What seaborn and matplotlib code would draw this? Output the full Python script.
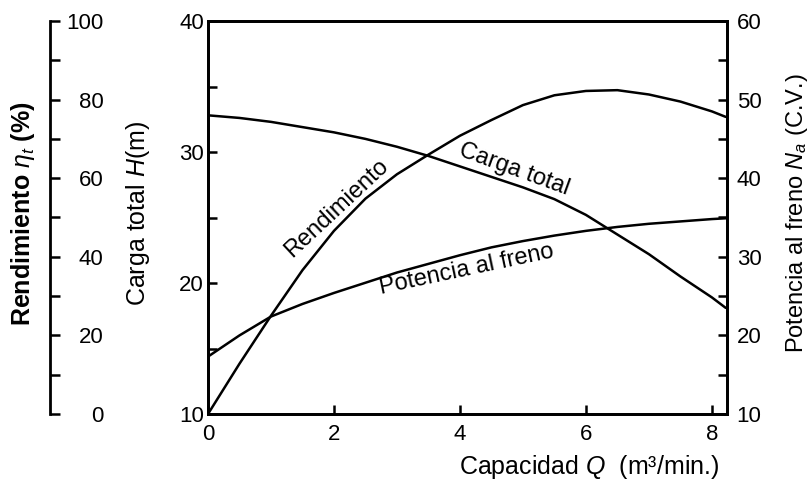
import matplotlib
matplotlib.use("Agg")
import matplotlib.pyplot as plt
import seaborn as sns
from matplotlib.ticker import MultipleLocator

# -----------------------------------------------------------------------------
# Datos leidos de la curva caracteristica de la bomba
# -----------------------------------------------------------------------------
caudal = [0, 0.5, 1, 1.5, 2, 2.5, 3, 3.5, 4, 4.5, 5, 5.5, 6, 6.5, 7, 7.5, 8, 8.22]
carga_total = [32.8, 32.6, 32.3, 31.9, 31.5, 31.0, 30.4, 29.7, 28.9, 28.1,
               27.3, 26.4, 25.2, 23.7, 22.2, 20.5, 18.9, 18.1]
potencia = [17.3, 20.0, 22.4, 24.0, 25.4, 26.7, 28.0, 29.1, 30.2, 31.2,
            32.0, 32.7, 33.3, 33.8, 34.2, 34.5, 34.8, 34.9]
rendimiento = [0, 12.8, 25.0, 36.6, 46.6, 54.8, 61.0, 66.0, 70.8, 74.8,
               78.6, 81.1, 82.2, 82.4, 81.3, 79.5, 77.0, 75.6]

ticks_q = [0, 2, 4, 6, 8]
ticks_h = [10, 20, 30, 40]
ticks_n = [10, 20, 30, 40, 50, 60]
ticks_eta = [0, 20, 40, 60, 80, 100]

sns.set_style("ticks")
plt.rcParams["font.family"] = ["Liberation Sans", "DejaVu Sans"]
plt.rcParams["mathtext.fontset"] = "custom"
plt.rcParams["mathtext.rm"] = "Liberation Sans"
plt.rcParams["mathtext.it"] = "Liberation Sans:italic"
plt.rcParams["mathtext.bf"] = "Liberation Sans:bold"
plt.rcParams["axes.linewidth"] = 2
for k in ["axes.edgecolor", "xtick.color", "ytick.color", "text.color",
          "axes.labelcolor", "xtick.labelcolor", "ytick.labelcolor"]:
    plt.rcParams[k] = "black"

fig = plt.figure(figsize=(8.1, 4.88), dpi=100)
ax = fig.add_axes([208 / 810, 74 / 488, 519 / 810, 393 / 488])
axr = ax.twinx()
axe = ax.twinx()

sns.lineplot(x=caudal, y=carga_total, ax=ax, color="black", lw=1.8)
sns.lineplot(x=caudal, y=potencia, ax=axr, color="black", lw=1.8)
sns.lineplot(x=caudal, y=rendimiento, ax=axe, color="black", lw=1.8)

# eje principal (carga total)
ax.set_xlim(0, 8.24)
ax.set_ylim(10, 40)
ax.set_xticks(ticks_q)
ax.set_yticks(ticks_h)
ax.yaxis.set_minor_locator(MultipleLocator(5))
ax.tick_params(axis="both", which="both", direction="in", width=1.8,
               length=6.5, labelsize=16)
ax.tick_params(axis="y", pad=3, left=True, right=False)
ax.tick_params(axis="x", pad=7, top=False, bottom=True)
ax.set_ylabel("Carga total $H$(m)", fontsize=18)
ax.yaxis.set_label_coords(-0.108, 0.51)
ax.set_xlabel("Capacidad $Q$  (m³/min.)", fontsize=18, loc="right")
ax.xaxis.set_label_coords(0.986, -0.1)

# eje derecho (potencia al freno)
axr.set_ylim(10, 60)
axr.set_yticks(ticks_n)
axr.yaxis.set_minor_locator(MultipleLocator(5))
axr.tick_params(axis="y", which="both", direction="in", width=1.8,
                length=6.5, labelsize=16, pad=7)
axr.set_ylabel("Potencia al freno $N_a$ (C.V.)", fontsize=17)
axr.yaxis.set_label_coords(1.11, 0.51)

# eje exterior (rendimiento)
axe.set_ylim(0, 100)
axe.spines["right"].set_position(("axes", -0.304))
for s in ["left", "top", "bottom"]:
    axe.spines[s].set_visible(False)
axe.set_yticks(ticks_eta)
axe.yaxis.set_minor_locator(MultipleLocator(10))
axe.tick_params(axis="y", which="both", direction="out", length=7.5, width=1.8,
                labelsize=16, pad=31)
for t in axe.get_yticklabels():
    t.set_horizontalalignment("right")
axe.set_ylabel(r"Rendimiento $\eta_t$ (%)", fontsize=18, fontweight="bold")
axe.yaxis.set_label_position("left")
axe.yaxis.set_label_coords(-0.329, 0.51)
axe.yaxis.label.set_verticalalignment("bottom")

# etiquetas de las curvas
ax.text(2.04, 25.7, "Rendimiento", rotation=43, ha="center", va="center", fontsize=17)
ax.text(4.86, 28.7, "Carga total", rotation=-20, ha="center", va="center", fontsize=17)
ax.text(4.1, 21.0, "Potencia al freno", rotation=12, ha="center", va="center", fontsize=17)

plt.savefig("out.png", dpi=100)
plt.close()
